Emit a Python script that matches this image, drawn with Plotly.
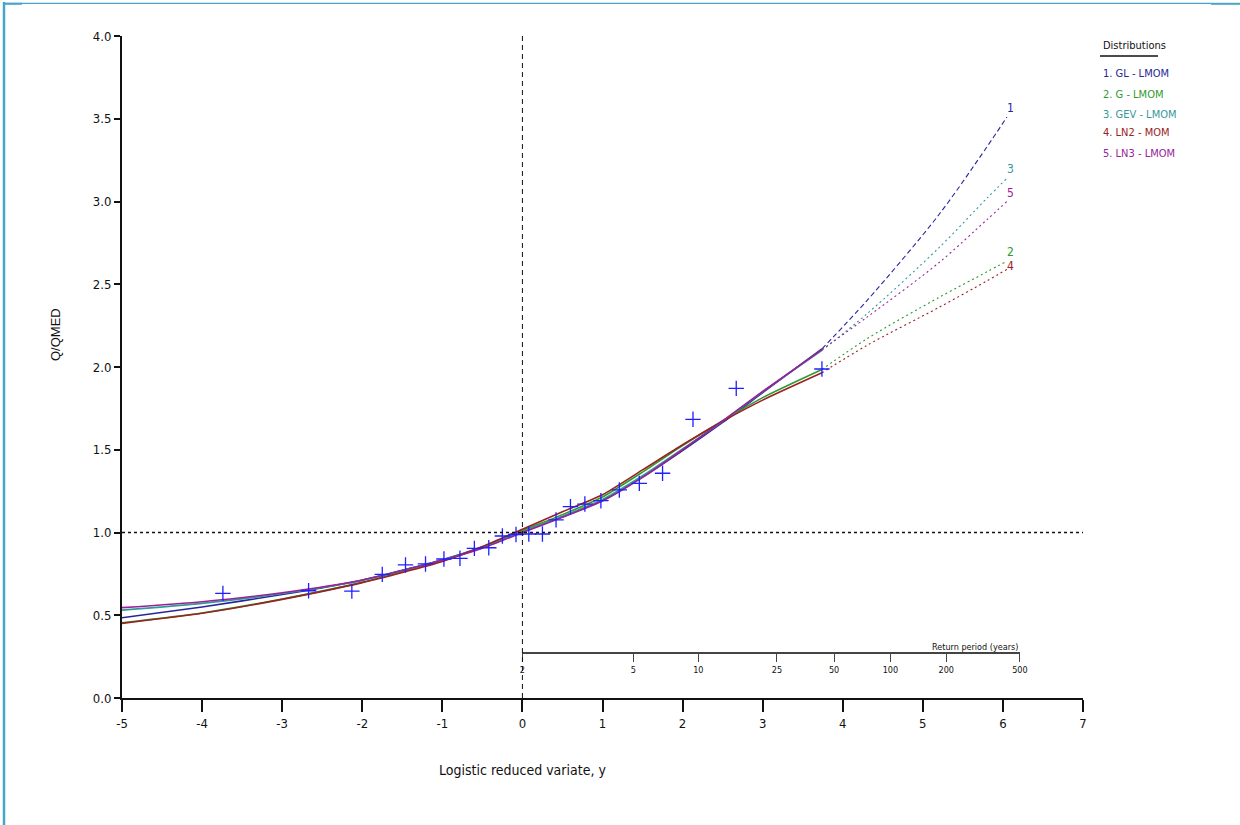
import numpy as np
import plotly.graph_objects as go

# ---------------------------------------------------------------------------
# Data
# ---------------------------------------------------------------------------
# Observed annual maxima: logistic reduced variate and standardised flow
obs_y = [-3.74, -2.67, -2.13, -1.75, -1.46, -1.21, -0.98, -0.78, -0.60, -0.42,
         -0.25, -0.08, 0.08, 0.25, 0.42, 0.60, 0.78, 0.98, 1.21, 1.46,
         1.75, 2.13, 2.67, 3.74]
obs_q = [0.632, 0.648, 0.646, 0.747, 0.804, 0.810, 0.840, 0.844, 0.904, 0.908,
         0.979, 0.988, 0.991, 0.991, 1.076, 1.156, 1.172, 1.192, 1.257, 1.297,
         1.358, 1.684, 1.871, 1.988]

# Fitted growth curves within the range of the record (solid)
fit_y = [-5, -4, -3, -2, -1, -0.5, 0, 0.5, 1, 1.5, 2, 2.5, 3, 3.74]
gl_fit = [0.485, 0.550, 0.625, 0.712, 0.835, 0.912, 1.005, 1.095, 1.195, 1.335,
          1.495, 1.665, 1.845, 2.110]
g_fit = [0.455, 0.514, 0.598, 0.700, 0.830, 0.912, 1.012, 1.108, 1.215, 1.365,
         1.525, 1.675, 1.815, 1.985]
gev_fit = [0.531, 0.572, 0.631, 0.712, 0.833, 0.908, 1.005, 1.098, 1.200, 1.343,
           1.505, 1.672, 1.850, 2.100]
ln2_fit = [0.451, 0.512, 0.596, 0.697, 0.825, 0.915, 1.020, 1.125, 1.228, 1.378,
           1.530, 1.672, 1.800, 1.965]
ln3_fit = [0.546, 0.582, 0.636, 0.713, 0.832, 0.905, 1.000, 1.092, 1.190, 1.333,
           1.500, 1.675, 1.852, 2.105]

# Extrapolated part of each growth curve (dashed)
ext_y = [3.74, 4.3, 5.2, 5.8, 6.05]
gl_ext = [2.110, 2.40, 2.92, 3.33, 3.51]
g_ext = [1.985, 2.17, 2.42, 2.575, 2.64]
gev_ext = [2.100, 2.32, 2.72, 3.02, 3.14]
ln2_ext = [1.965, 2.13, 2.36, 2.52, 2.59]
ln3_ext = [2.105, 2.30, 2.63, 2.89, 3.00]

dist_names = ["1. GL - LMOM", "2. G - LMOM", "3. GEV - LMOM",
              "4. LN2 - MOM", "5. LN3 - LMOM"]
dist_ids = ["1", "2", "3", "4", "5"]

# Return period scale (years)
return_periods = [2, 5, 10, 25, 50, 100, 200, 500]

# Axis ticks
x_ticks = [-5, -4, -3, -2, -1, 0, 1, 2, 3, 4, 5, 6, 7]
y_ticks = [0.0, 0.5, 1.0, 1.5, 2.0, 2.5, 3.0, 3.5, 4.0]

# ---------------------------------------------------------------------------
# Styling
# ---------------------------------------------------------------------------
W, H = 1240, 825
L, R, T, B = 122, 1083, 36, 698          # plot area in pixels
NARROW = "Liberation Sans Narrow, Arial Narrow, DejaVu Sans Condensed, sans-serif"
REGULAR = "Liberation Sans, Arial, sans-serif"
FRAME = "#46a6c9"
MARKER = "#1f1fff"
colors = ["#26269a", "#2f9a2f", "#339999", "#992222", "#992299"]
ext_dash = ["5px,3px", "2px,3px", "2px,3px", "2px,3px", "2px,3px"]
label_shift = [9, 9, 9, 3, 9]            # vertical offset of curve numbers
RP_LEVEL = 0.27                          # height of the return period scale


def px(x):
    return (x - L) / (R - L)


def py(y):
    return (B - y) / (B - T)


fits = [gl_fit, g_fit, gev_fit, ln2_fit, ln3_fit]
exts = [gl_ext, g_ext, gev_ext, ln2_ext, ln3_ext]

fig = go.Figure()

for i in range(5):
    fig.add_trace(go.Scatter(
        x=fit_y, y=fits[i], mode="lines", name=dist_names[i],
        line=dict(color=colors[i], width=1.6, shape="spline", smoothing=0.6),
        showlegend=False, hoverinfo="skip"))
    fig.add_trace(go.Scatter(
        x=ext_y, y=exts[i], mode="lines",
        line=dict(color=colors[i], width=1.1, dash=ext_dash[i],
                  shape="spline", smoothing=0.9),
        showlegend=False, hoverinfo="skip"))

# Observations
fig.add_trace(go.Scatter(
    x=obs_y, y=obs_q, mode="markers",
    marker=dict(symbol="cross-thin", size=11,
                line=dict(color=MARKER, width=1.3), color=MARKER),
    showlegend=False, hoverinfo="skip"))

# Return period axis carrier
rp_pos = [float(np.log(t - 1)) for t in return_periods]
fig.add_trace(go.Scatter(
    x=rp_pos, y=[RP_LEVEL] * len(rp_pos), xaxis="x2", yaxis="y",
    mode="markers", marker=dict(opacity=0), showlegend=False,
    hoverinfo="skip"))

annotations = []

# Curve numbers at the end of each extrapolation
for i in range(5):
    annotations.append(dict(
        x=ext_y[-1] + 0.04, y=exts[i][-1], xref="x", yref="y",
        xanchor="center", yanchor="middle",
        text=dist_ids[i], showarrow=False, yshift=label_shift[i],
        font=dict(family=NARROW, size=12, color=colors[i])))

# Key
annotations.append(dict(
    x=px(1101), y=py(45), xref="paper", yref="paper", xanchor="left",
    yanchor="middle", text="Distributions", showarrow=False,
    font=dict(family=NARROW, size=11, color="#111111")))
key_rows = [74, 95, 114, 133, 153]
for i in range(5):
    annotations.append(dict(
        x=px(1101), y=py(key_rows[i]), xref="paper", yref="paper",
        xanchor="left", yanchor="middle", text=dist_names[i],
        showarrow=False,
        font=dict(family=NARROW, size=11, color=colors[i])))

# Axis titles
annotations.append(dict(
    x=px(55), y=py(335), xref="paper", yref="paper", text="Q/QMED",
    xanchor="center", yanchor="middle", textangle=-90, showarrow=False,
    font=dict(family=REGULAR, size=13, color="#111111")))
annotations.append(dict(
    x=0, y=py(770), xref="x", yref="paper", text="Logistic reduced variate, y",
    xanchor="center", yanchor="middle",
    showarrow=False, font=dict(family=NARROW, size=14, color="#111111")))
annotations.append(dict(
    x=rp_pos[-1], y=RP_LEVEL, xref="x2", yref="y", xanchor="right",
    yanchor="bottom", yshift=-1, text="Return period (years)",
    showarrow=False, font=dict(family=NARROW, size=9, color="#111111")))

shapes = [
    # reference lines through the median
    dict(type="line", xref="x", yref="y", x0=0, x1=0, y0=0, y1=4,
         line=dict(color="#111111", width=1, dash="5px,4px")),
    dict(type="line", xref="x", yref="y", x0=-5, x1=7, y0=1, y1=1,
         line=dict(color="#111111", width=1.3, dash="3px,3px")),
    # window frame
    dict(type="line", xref="paper", yref="paper", x0=px(4), x1=px(4),
         y0=py(2), y1=py(826), line=dict(color=FRAME, width=2.5)),
    dict(type="line", xref="paper", yref="paper", x0=px(3), x1=px(1211),
         y0=py(3.3), y1=py(3.3), line=dict(color=FRAME, width=1.2)),
    dict(type="line", xref="paper", yref="paper", x0=px(3), x1=px(22),
         y0=py(3.8), y1=py(3.8), line=dict(color=FRAME, width=2)),
    dict(type="line", xref="paper", yref="paper", x0=px(1211), x1=px(1241),
         y0=py(3.8), y1=py(3.8), line=dict(color=FRAME, width=2)),
    # key underline
    dict(type="line", xref="paper", yref="paper", x0=px(1100), x1=px(1158),
         y0=py(56), y1=py(56), line=dict(color="#111111", width=1.5)),
]

fig.update_layout(
    width=W, height=H,
    margin=dict(l=L, r=W - R, t=T, b=H - B),
    paper_bgcolor="white", plot_bgcolor="rgba(0,0,0,0)",
    showlegend=False,
    annotations=annotations, shapes=shapes,
    xaxis=dict(
        range=[-5, 7], tickvals=x_ticks, ticktext=[str(v) for v in x_ticks],
        showgrid=False, zeroline=False, showline=True, linecolor="#111111",
        linewidth=2, ticks="outside", ticklen=12, tickwidth=1.5,
        tickcolor="#111111",
        tickfont=dict(family=NARROW, size=13, color="#111111")),
    yaxis=dict(
        range=[0, 4], tickvals=y_ticks, ticktext=[f"{v:.1f}" for v in y_ticks],
        showgrid=False, zeroline=False, showline=True,
        linecolor="#111111", linewidth=2, ticks="outside", ticklen=6,
        tickwidth=2, tickcolor="#111111",
        tickfont=dict(family=NARROW, size=13, color="#111111")),
    xaxis2=dict(
        domain=[px(522.4), px(522.4 + rp_pos[-1] * 80.08)],
        range=[0, rp_pos[-1]], anchor="free", position=RP_LEVEL / 4,
        tickvals=rp_pos, ticktext=[str(t) for t in return_periods],
        showgrid=False, zeroline=False, showline=True, linecolor="#444444",
        linewidth=1.5, ticks="outside", ticklen=8, tickwidth=1,
        tickcolor="#444444",
        tickfont=dict(family=NARROW, size=9, color="#111111")),
)

fig.write_html("out.html")
